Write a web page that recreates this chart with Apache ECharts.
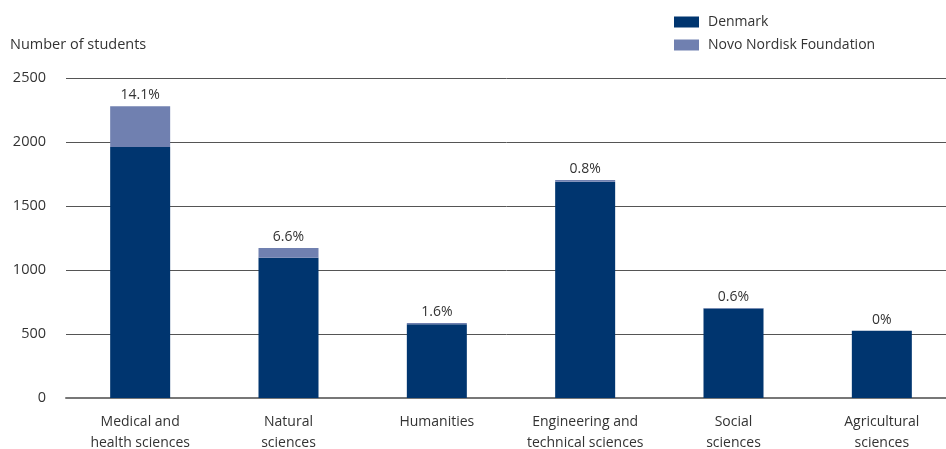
<!DOCTYPE html>
<html>
<head>
<meta charset="utf-8">
<script src="https://cdn.jsdelivr.net/npm/echarts@6/dist/echarts.min.js"></script>
<style>
html, body { margin: 0; padding: 0; background: #fff; }
#chart { width: 946px; height: 449px; }
</style>
</head>
<body>
<div id="chart"></div>
<script>
var categories = ['Medical and\nhealth sciences', 'Natural\nsciences', 'Humanities', 'Engineering and\ntechnical sciences', 'Social\nsciences', 'Agricultural\nsciences'];
var denmark = [1960, 1095, 577, 1690, 700, 525];
var novo = [320, 77, 9, 14, 4, 0];
var shares = ['14.1%', '6.6%', '1.6%', '0.8%', '0.6%', '0%'];

var font = 'Open Sans';
var myChart = echarts.init(document.getElementById('chart'));
var option = {
	animation: false,
	textStyle: { fontFamily: font },
	title: {
		text: 'Number of students',
		left: 5,
		top: 32,
		textStyle: { fontSize: 14.5, fontWeight: 'normal', color: '#333', fontFamily: font }
	},
	legend: {
		orient: 'vertical',
		left: 669,
		top: 10,
		itemWidth: 25,
		itemHeight: 11,
		itemGap: 9,
		icon: 'rect',
		textStyle: { fontSize: 14, color: '#333', padding: [0, 0, 0, 4] },
		data: ['Denmark', 'Novo Nordisk Foundation']
	},
	grid: {
		left: 66,
		right: -10,
		top: 78,
		bottom: 51,
		containLabel: false,
		outerBoundsMode: 'none'
	},
	xAxis: {
		type: 'category',
		data: categories,
		axisLine: { lineStyle: { color: '#777', width: 2 } },
		axisTick: { show: false },
		axisLabel: { fontSize: 14, color: '#333', lineHeight: 21, margin: 14, interval: 0 }
	},
	yAxis: {
		type: 'value',
		min: 0,
		max: 2500,
		interval: 500,
		axisLine: { show: false },
		axisTick: { show: false },
		axisLabel: {
			fontSize: 14.5,
			color: '#333',
			margin: 20,
			formatter: function (v) { return String(v); }
		},
		splitLine: { lineStyle: { color: '#555', width: 1 } }
	},
	series: [{
		name: 'Denmark',
		type: 'bar',
		stack: 'total',
		barWidth: 60,
		itemStyle: { color: '#00356f' },
		data: denmark
	}, {
		name: 'Novo Nordisk Foundation',
		type: 'bar',
		stack: 'total',
		barWidth: 60,
		itemStyle: { color: '#7080b0' },
		label: {
			show: true,
			position: 'top',
			distance: 4,
			fontSize: 14,
			color: '#333',
			formatter: function (p) { return shares[p.dataIndex]; }
		},
		data: novo
	}]
};

myChart.setOption(option);

window.onresize = function() {
	myChart.resize();
}
</script>
</body>
</html>
